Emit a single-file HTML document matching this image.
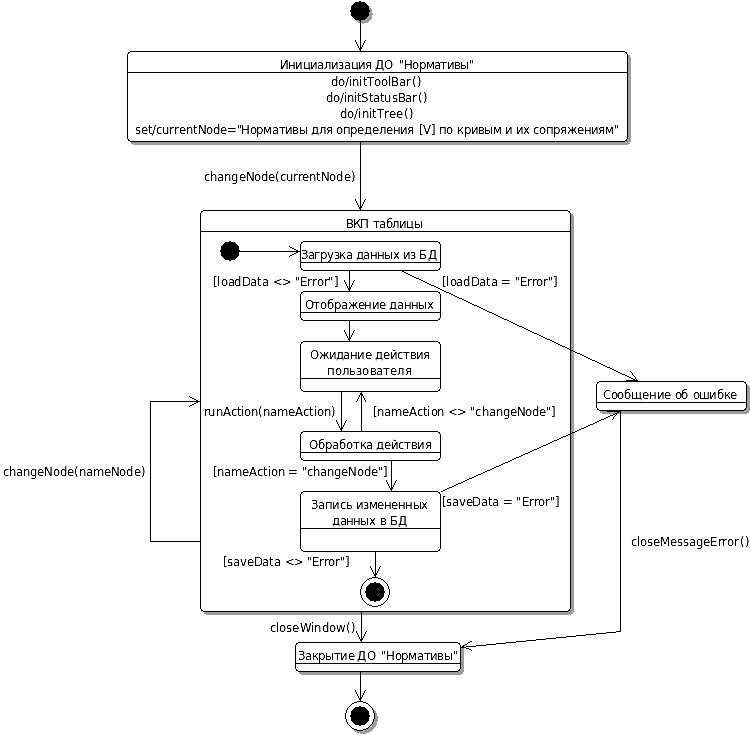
<!DOCTYPE html>
<html lang="ru"><head><meta charset="utf-8"><title>Диаграмма состояний</title>
<style>
html,body{margin:0;padding:0;background:#fff;}
body{width:750px;height:735px;overflow:hidden;}
svg{display:block;will-change:transform;}
text{font-family:"DejaVu Sans Condensed","DejaVu Sans","Liberation Sans",sans-serif;font-size:13px;fill:#000;}
</style></head><body>
<svg width="750" height="735" viewBox="0 0 750 735">
<rect x="0" y="0" width="750" height="735" fill="#fff"/>
<path shape-rendering="crispEdges" fill="#9d9d9d" d="M369 7h1v1h-1zM369 8h2v1h-2zM369 9h3v1h-3zM370 10h2v2h-2zM369 12h3v1h-3zM369 13h4v2h-4zM369 15h3v1h-3zM368 16h4v1h-4zM367 17h5v1h-5zM366 18h6v1h-6zM365 19h6v1h-6zM356 20h3v1h-3zM361 20h9v1h-9zM357 21h3v1h-3zM361 21h8v1h-8zM358 22h2v1h-2zM361 22h7v1h-7zM362 23h2v1h-2zM628 55h2v2h-2zM628 57h3v82h-3zM627 139h4v2h-4zM625 141h6v1h-6zM131 142h229v2h-229zM361 142h269v2h-269zM133 144h227v1h-227zM361 144h267v1h-267zM571 214h2v2h-2zM571 216h3v134h-3zM573 350h1v1h-1zM571 351h2v1h-2zM571 352h3v80h-3zM747 385h2v2h-2zM747 387h3v21h-3zM746 408h4v2h-4zM744 410h6v1h-6zM600 411h7v1h-7zM621 411h128v2h-128zM600 412h17v1h-17zM619 412h1v1h-1zM602 413h13v1h-13zM617 413h3v1h-3zM621 413h126v1h-126zM571 432h1v1h-1zM572 433h2v1h-2zM571 434h3v175h-3zM570 609h4v2h-4zM568 611h6v1h-6zM204 612h157v2h-157zM362 612h211v2h-211zM206 614h155v1h-155zM362 614h209v1h-209zM461 646h1v1h-1zM461 648h3v21h-3zM460 669h4v2h-4zM458 671h6v1h-6zM299 672h61v2h-61zM361 672h102v2h-102zM301 674h59v1h-59zM361 674h100v1h-100zM373 709h1v1h-1zM374 710h1v1h-1zM374 711h2v2h-2zM375 713h2v3h-2zM375 716h3v3h-3zM374 719h4v3h-4zM373 722h4v2h-4zM372 724h5v1h-5zM371 725h5v1h-5zM370 726h6v1h-6zM369 727h6v1h-6zM368 728h6v1h-6zM353 729h1v1h-1zM366 729h7v1h-7zM354 730h3v1h-3zM363 730h9v1h-9zM355 731h16v1h-16zM357 732h12v1h-12zM360 733h6v1h-6z"/>
<path shape-rendering="crispEdges" fill="#000" d="M359 1h2v1h-2zM355 2h10v1h-10zM354 3h12v1h-12zM353 4h14v1h-14zM352 5h16v1h-16zM351 6h18v4h-18zM350 10h20v2h-20zM351 12h18v4h-18zM352 16h16v1h-16zM353 17h14v1h-14zM354 18h12v1h-12zM355 19h10v1h-10zM359 20h2v1h-2zM360 21h1v26h-1zM355 40h1v2h-1zM365 40h1v1h-1zM364 41h1v2h-1zM356 42h1v2h-1zM363 43h1v2h-1zM357 44h1v2h-1zM362 45h1v2h-1zM358 46h1v2h-1zM360 47h2v1h-2zM359 48h3v1h-3zM359 49h2v1h-2zM360 50h1v1h-1zM130 51h495v1h-495zM128 52h2v1h-2zM625 52h2v1h-2zM128 53h1v1h-1zM626 53h1v1h-1zM127 54h1v18h-1zM627 54h1v18h-1zM127 72h501v1h-501zM127 73h1v66h-1zM627 73h1v66h-1zM128 139h1v1h-1zM626 139h1v1h-1zM128 140h2v1h-2zM625 140h2v1h-2zM130 141h495v1h-495zM360 142h1v64h-1zM355 199h1v2h-1zM365 199h1v1h-1zM364 200h1v2h-1zM356 201h1v2h-1zM363 202h1v2h-1zM357 203h1v2h-1zM362 204h1v2h-1zM358 205h1v2h-1zM360 206h2v1h-2zM359 207h3v1h-3zM359 208h2v1h-2zM360 209h1v1h-1zM203 210h365v1h-365zM201 211h2v1h-2zM568 211h2v1h-2zM201 212h1v1h-1zM569 212h1v1h-1zM200 213h1v18h-1zM570 213h1v18h-1zM200 231h371v1h-371zM200 232h1v169h-1zM570 232h1v117h-1zM229 241h2v1h-2zM303 241h135v1h-135zM225 242h10v1h-10zM301 242h2v1h-2zM438 242h2v1h-2zM224 243h12v1h-12zM301 243h1v1h-1zM439 243h1v1h-1zM223 244h14v1h-14zM300 244h1v7h-1zM440 244h1v18h-1zM222 245h16v1h-16zM221 246h18v4h-18zM289 246h1v1h-1zM290 247h2v1h-2zM292 248h2v1h-2zM294 249h2v1h-2zM220 250h20v1h-20zM296 250h2v1h-2zM220 251h81v1h-81zM221 252h18v4h-18zM296 252h2v1h-2zM300 252h1v10h-1zM294 253h2v1h-2zM292 254h2v1h-2zM290 255h2v1h-2zM222 256h16v1h-16zM289 256h1v1h-1zM223 257h14v1h-14zM224 258h12v1h-12zM225 259h10v1h-10zM229 260h2v1h-2zM300 262h141v1h-141zM300 263h1v5h-1zM440 263h1v5h-1zM301 268h1v1h-1zM439 268h1v1h-1zM301 269h2v1h-2zM438 269h2v1h-2zM303 270h135v1h-135zM349 271h1v16h-1zM402 271h2v1h-2zM404 272h2v1h-2zM406 273h2v1h-2zM408 274h2v1h-2zM410 275h2v1h-2zM412 276h2v1h-2zM414 277h2v1h-2zM416 278h3v1h-3zM419 279h2v1h-2zM344 280h1v2h-1zM354 280h1v1h-1zM421 280h2v1h-2zM353 281h1v2h-1zM423 281h2v1h-2zM345 282h1v2h-1zM425 282h2v1h-2zM352 283h1v2h-1zM427 283h2v1h-2zM346 284h1v2h-1zM429 284h2v1h-2zM351 285h1v2h-1zM431 285h3v1h-3zM347 286h1v2h-1zM434 286h2v1h-2zM349 287h2v1h-2zM436 287h2v1h-2zM348 288h3v1h-3zM438 288h2v1h-2zM348 289h2v1h-2zM440 289h2v1h-2zM349 290h1v1h-1zM442 290h2v1h-2zM303 291h135v1h-135zM444 291h2v1h-2zM301 292h2v1h-2zM438 292h2v1h-2zM446 292h3v1h-3zM301 293h1v1h-1zM439 293h1v1h-1zM449 293h2v1h-2zM300 294h1v18h-1zM440 294h1v18h-1zM451 294h2v1h-2zM453 295h2v1h-2zM455 296h2v1h-2zM457 297h2v1h-2zM459 298h3v1h-3zM462 299h2v1h-2zM464 300h2v1h-2zM466 301h2v1h-2zM468 302h2v1h-2zM470 303h2v1h-2zM472 304h2v1h-2zM474 305h3v1h-3zM477 306h2v1h-2zM479 307h2v1h-2zM481 308h2v1h-2zM483 309h2v1h-2zM485 310h2v1h-2zM487 311h2v1h-2zM300 312h141v1h-141zM489 312h3v1h-3zM300 313h1v5h-1zM440 313h1v5h-1zM492 313h2v1h-2zM494 314h2v1h-2zM496 315h2v1h-2zM498 316h2v1h-2zM500 317h2v1h-2zM301 318h1v1h-1zM439 318h1v1h-1zM502 318h2v1h-2zM301 319h2v1h-2zM438 319h2v1h-2zM504 319h3v1h-3zM303 320h135v1h-135zM507 320h2v1h-2zM349 321h1v16h-1zM509 321h2v1h-2zM511 322h2v1h-2zM513 323h2v1h-2zM515 324h2v1h-2zM517 325h2v1h-2zM519 326h3v1h-3zM522 327h2v1h-2zM524 328h2v1h-2zM526 329h2v1h-2zM344 330h1v2h-1zM354 330h1v1h-1zM528 330h2v1h-2zM353 331h1v2h-1zM530 331h2v1h-2zM345 332h1v2h-1zM532 332h2v1h-2zM352 333h1v2h-1zM534 333h3v1h-3zM346 334h1v2h-1zM537 334h2v1h-2zM351 335h1v2h-1zM539 335h2v1h-2zM347 336h1v2h-1zM541 336h2v1h-2zM349 337h2v1h-2zM543 337h2v1h-2zM348 338h3v1h-3zM545 338h2v1h-2zM348 339h2v1h-2zM547 339h3v1h-3zM349 340h1v1h-1zM550 340h2v1h-2zM303 341h135v1h-135zM552 341h2v1h-2zM301 342h2v1h-2zM438 342h2v1h-2zM554 342h2v1h-2zM301 343h1v1h-1zM439 343h1v1h-1zM556 343h2v1h-2zM300 344h1v34h-1zM440 344h1v34h-1zM558 344h2v1h-2zM560 345h2v1h-2zM562 346h3v1h-3zM565 347h2v1h-2zM567 348h2v1h-2zM569 349h2v1h-2zM570 350h3v1h-3zM570 351h1v82h-1zM573 351h2v1h-2zM575 352h2v1h-2zM577 353h3v1h-3zM580 354h2v1h-2zM582 355h2v1h-2zM584 356h2v1h-2zM586 357h2v1h-2zM588 358h2v1h-2zM590 359h2v1h-2zM592 360h3v1h-3zM595 361h2v1h-2zM597 362h2v1h-2zM599 363h2v1h-2zM601 364h2v1h-2zM603 365h2v1h-2zM605 366h2v1h-2zM607 367h3v1h-3zM610 368h2v1h-2zM612 369h2v1h-2zM614 370h2v1h-2zM616 371h2v1h-2zM630 371h1v1h-1zM618 372h2v1h-2zM631 372h1v1h-1zM620 373h2v1h-2zM632 373h1v2h-1zM622 374h3v1h-3zM625 375h2v1h-2zM633 375h1v1h-1zM627 376h2v1h-2zM634 376h1v1h-1zM629 377h2v1h-2zM635 377h1v2h-1zM300 378h141v1h-141zM631 378h2v1h-2zM300 379h1v10h-1zM440 379h1v10h-1zM633 379h2v1h-2zM636 379h1v1h-1zM626 380h12v1h-12zM599 381h145v1h-145zM597 382h2v1h-2zM744 382h2v1h-2zM597 383h1v1h-1zM745 383h1v1h-1zM596 384h1v18h-1zM746 384h1v18h-1zM301 389h1v1h-1zM439 389h1v1h-1zM301 390h2v1h-2zM438 390h2v1h-2zM303 391h135v1h-135zM341 392h1v35h-1zM361 392h1v1h-1zM360 393h2v1h-2zM360 394h3v1h-3zM359 395h1v2h-1zM361 395h2v1h-2zM189 396h1v1h-1zM361 396h1v35h-1zM363 396h1v2h-1zM190 397h2v1h-2zM358 397h1v2h-1zM192 398h2v1h-2zM364 398h1v2h-1zM194 399h2v1h-2zM357 399h1v2h-1zM196 400h2v1h-2zM365 400h1v2h-1zM150 401h51v1h-51zM356 401h1v1h-1zM150 402h1v139h-1zM196 402h2v1h-2zM200 402h1v139h-1zM596 402h151v1h-151zM194 403h2v1h-2zM596 403h1v5h-1zM746 403h1v5h-1zM192 404h2v1h-2zM190 405h2v1h-2zM189 406h1v1h-1zM597 408h1v1h-1zM745 408h1v1h-1zM597 409h2v1h-2zM744 409h2v1h-2zM599 410h145v1h-145zM607 411h14v1h-14zM617 412h2v1h-2zM620 412h1v219h-1zM615 413h2v1h-2zM613 414h2v1h-2zM616 414h1v1h-1zM610 415h3v1h-3zM615 415h1v1h-1zM608 416h2v1h-2zM614 416h1v1h-1zM606 417h2v1h-2zM613 417h1v2h-1zM604 418h2v1h-2zM601 419h3v1h-3zM612 419h1v1h-1zM336 420h1v2h-1zM346 420h1v1h-1zM599 420h2v1h-2zM345 421h1v2h-1zM597 421h2v1h-2zM337 422h1v2h-1zM595 422h2v1h-2zM344 423h1v2h-1zM593 423h2v1h-2zM338 424h1v2h-1zM590 424h3v1h-3zM343 425h1v2h-1zM588 425h2v1h-2zM339 426h1v2h-1zM586 426h2v1h-2zM341 427h2v1h-2zM584 427h2v1h-2zM340 428h3v1h-3zM581 428h3v1h-3zM340 429h2v1h-2zM579 429h2v1h-2zM341 430h1v1h-1zM577 430h2v1h-2zM303 431h135v1h-135zM575 431h2v1h-2zM301 432h2v1h-2zM438 432h2v1h-2zM572 432h3v1h-3zM301 433h1v1h-1zM439 433h1v1h-1zM570 433h2v1h-2zM300 434h1v18h-1zM440 434h1v18h-1zM568 434h3v1h-3zM566 435h2v1h-2zM570 435h1v174h-1zM563 436h3v1h-3zM561 437h2v1h-2zM559 438h2v1h-2zM557 439h2v1h-2zM554 440h3v1h-3zM552 441h2v1h-2zM550 442h2v1h-2zM548 443h2v1h-2zM546 444h2v1h-2zM543 445h3v1h-3zM541 446h2v1h-2zM539 447h2v1h-2zM537 448h2v1h-2zM534 449h3v1h-3zM532 450h2v1h-2zM530 451h2v1h-2zM300 452h141v1h-141zM528 452h2v1h-2zM300 453h1v5h-1zM440 453h1v5h-1zM525 453h3v1h-3zM523 454h2v1h-2zM521 455h2v1h-2zM519 456h2v1h-2zM516 457h3v1h-3zM301 458h1v1h-1zM439 458h1v1h-1zM514 458h2v1h-2zM301 459h2v1h-2zM438 459h2v1h-2zM512 459h2v1h-2zM303 460h135v1h-135zM510 460h2v1h-2zM391 461h1v26h-1zM508 461h2v1h-2zM505 462h3v1h-3zM503 463h2v1h-2zM501 464h2v1h-2zM499 465h2v1h-2zM496 466h3v1h-3zM494 467h2v1h-2zM492 468h2v1h-2zM490 469h2v1h-2zM487 470h3v1h-3zM485 471h2v1h-2zM483 472h2v1h-2zM481 473h2v1h-2zM478 474h3v1h-3zM476 475h2v1h-2zM474 476h2v1h-2zM472 477h2v1h-2zM469 478h3v1h-3zM467 479h2v1h-2zM386 480h1v2h-1zM396 480h1v1h-1zM465 480h2v1h-2zM395 481h1v2h-1zM463 481h2v1h-2zM387 482h1v2h-1zM461 482h2v1h-2zM394 483h1v2h-1zM458 483h3v1h-3zM388 484h1v2h-1zM456 484h2v1h-2zM393 485h1v2h-1zM454 485h2v1h-2zM389 486h1v2h-1zM452 486h2v1h-2zM391 487h2v1h-2zM449 487h3v1h-3zM390 488h3v1h-3zM447 488h2v1h-2zM390 489h2v1h-2zM445 489h2v1h-2zM391 490h1v1h-1zM443 490h2v1h-2zM303 491h135v1h-135zM441 491h2v1h-2zM301 492h2v1h-2zM438 492h2v1h-2zM301 493h1v1h-1zM439 493h1v1h-1zM300 494h1v34h-1zM440 494h1v34h-1zM300 528h141v1h-141zM300 529h1v20h-1zM440 529h1v20h-1zM150 541h51v1h-51zM200 542h1v67h-1zM301 549h1v1h-1zM439 549h1v1h-1zM301 550h2v1h-2zM438 550h2v1h-2zM303 551h135v1h-135zM375 552h1v21h-1zM370 566h1v2h-1zM380 566h1v1h-1zM379 567h1v2h-1zM371 568h1v2h-1zM378 569h1v2h-1zM372 570h1v2h-1zM377 571h1v2h-1zM373 572h1v2h-1zM375 573h2v1h-2zM374 574h3v1h-3zM374 575h2v1h-2zM375 576h1v1h-1zM372 577h6v1h-6zM369 578h3v1h-3zM378 578h3v1h-3zM367 579h2v1h-2zM381 579h2v1h-2zM366 580h1v1h-1zM383 580h1v1h-1zM365 581h1v1h-1zM384 581h1v1h-1zM364 582h1v1h-1zM374 582h2v1h-2zM385 582h1v1h-1zM363 583h1v1h-1zM370 583h10v1h-10zM386 583h1v1h-1zM362 584h1v2h-1zM369 584h12v1h-12zM387 584h1v2h-1zM368 585h14v1h-14zM361 586h1v3h-1zM367 586h16v1h-16zM388 586h1v3h-1zM366 587h18v4h-18zM360 589h1v6h-1zM389 589h1v6h-1zM365 591h20v2h-20zM366 593h18v4h-18zM361 595h1v3h-1zM388 595h1v3h-1zM367 597h16v1h-16zM362 598h1v2h-1zM368 598h14v1h-14zM387 598h1v2h-1zM369 599h12v1h-12zM363 600h1v1h-1zM370 600h10v1h-10zM386 600h1v1h-1zM364 601h1v1h-1zM374 601h2v1h-2zM385 601h1v1h-1zM365 602h1v1h-1zM384 602h1v1h-1zM366 603h1v1h-1zM383 603h1v1h-1zM367 604h2v1h-2zM381 604h2v1h-2zM369 605h3v1h-3zM378 605h3v1h-3zM372 606h6v1h-6zM201 609h1v1h-1zM569 609h1v1h-1zM201 610h2v1h-2zM568 610h2v1h-2zM203 611h365v1h-365zM361 612h1v26h-1zM356 631h1v2h-1zM366 631h1v1h-1zM616 631h5v1h-5zM365 632h1v2h-1zM606 632h10v1h-10zM357 633h1v2h-1zM596 633h10v1h-10zM364 634h1v2h-1zM586 634h10v1h-10zM358 635h1v2h-1zM576 635h10v1h-10zM363 636h1v2h-1zM566 636h10v1h-10zM359 637h1v2h-1zM556 637h10v1h-10zM361 638h2v1h-2zM546 638h10v1h-10zM360 639h3v1h-3zM536 639h10v1h-10zM360 640h2v1h-2zM526 640h10v1h-10zM361 641h1v1h-1zM470 641h2v1h-2zM516 641h10v1h-10zM298 642h160v1h-160zM468 642h2v1h-2zM506 642h10v1h-10zM296 643h2v1h-2zM458 643h2v1h-2zM467 643h1v1h-1zM496 643h10v1h-10zM296 644h1v1h-1zM459 644h1v1h-1zM465 644h2v1h-2zM486 644h10v1h-10zM295 645h1v18h-1zM460 645h1v2h-1zM463 645h2v1h-2zM476 645h10v1h-10zM462 646h2v1h-2zM466 646h10v1h-10zM460 647h6v1h-6zM460 648h1v15h-1zM466 648h3v1h-3zM469 649h2v1h-2zM471 650h1v1h-1zM295 663h166v1h-166zM295 664h1v5h-1zM460 664h1v5h-1zM296 669h1v1h-1zM459 669h1v1h-1zM296 670h2v1h-2zM458 670h2v1h-2zM298 671h160v1h-160zM360 672h1v25h-1zM355 690h1v2h-1zM365 690h1v1h-1zM364 691h1v2h-1zM356 692h1v2h-1zM363 693h1v2h-1zM357 694h1v2h-1zM362 695h1v2h-1zM358 696h1v2h-1zM360 697h2v1h-2zM359 698h3v1h-3zM359 699h2v1h-2zM360 700h1v1h-1zM357 701h6v1h-6zM354 702h3v1h-3zM363 702h3v1h-3zM352 703h2v1h-2zM366 703h2v1h-2zM351 704h1v1h-1zM368 704h1v1h-1zM350 705h1v1h-1zM369 705h1v1h-1zM349 706h1v1h-1zM359 706h2v1h-2zM370 706h1v1h-1zM348 707h1v1h-1zM355 707h10v1h-10zM371 707h1v1h-1zM347 708h1v2h-1zM354 708h12v1h-12zM372 708h1v2h-1zM353 709h14v1h-14zM346 710h1v3h-1zM352 710h16v1h-16zM373 710h1v3h-1zM351 711h18v4h-18zM345 713h1v6h-1zM374 713h1v6h-1zM350 715h20v2h-20zM351 717h18v4h-18zM346 719h1v3h-1zM373 719h1v3h-1zM352 721h16v1h-16zM347 722h1v2h-1zM353 722h14v1h-14zM372 722h1v2h-1zM354 723h12v1h-12zM348 724h1v1h-1zM355 724h10v1h-10zM371 724h1v1h-1zM349 725h1v1h-1zM359 725h2v1h-2zM370 725h1v1h-1zM350 726h1v1h-1zM369 726h1v1h-1zM351 727h1v1h-1zM368 727h1v1h-1zM352 728h2v1h-2zM366 728h2v1h-2zM354 729h3v1h-3zM363 729h3v1h-3zM357 730h6v1h-6z"/>
<defs><filter id="bw" x="0" y="0" width="750" height="735" filterUnits="userSpaceOnUse" color-interpolation-filters="sRGB"><feComponentTransfer><feFuncA type="linear" slope="2" intercept="-0.5"/></feComponentTransfer></filter></defs>
<g filter="url(#bw)">
<text x="280 288 295 303 310 317 324 331 338 344 351 358 365 372 375 384 394 399 404 412 419 426 434 440 447 454 460 469" y="69">Инициализация ДО &quot;Нормативы&quot;</text>
<text x="331 338 345 349 352 359 363 367 374 381 388 391 399 406 412 417" y="86">do/initToolBar()</text>
<text x="326 333 340 344 347 354 357 361 369 373 380 384 392 398 405 412 418 423" y="102">do/initStatusBar()</text>
<text x="340 347 354 358 362 369 372 377 384 389 396 404 409" y="118">do/initTree()</text>
<text x="135 141 148 152 156 162 169 174 179 186 193 198 206 213 220 227 237 241 250 256 263 272 279 285 292 299 308 311 319 326 333 336 343 350 357 364 372 379 386 393 400 407 414 419 423 431 436 439 446 454 457 464 471 478 484 493 502 505 513 516 523 530 533 539 546 553 560 567 577 584 591 598 605 614" y="134">set/currentNode=&quot;Нормативы для определения [V] по кривым и их сопряжениям&quot;</text>
<text x="204 210 217 224 231 239 246 254 261 268 275 280 286 293 298 302 309 316 321 329 336 344 351" y="181">changeNode(currentNode)</text>
<text x="346 353 360 369 373 379 386 392 399 406 414" y="228">ВКП таблицы</text>
<text x="301 308 314 320 327 334 339 346 353 356 363 370 377 384 393 400 403 410 416 419 428" y="259">Загрузка данных из БД</text>
<text x="213 217 221 228 234 242 250 257 262 269 273 282 291 295 300 307 312 317 324 328 334" y="286">[loadData &lt;&gt; &quot;Error&quot;]</text>
<text x="442 446 450 456 463 471 479 486 491 498 501 511 515 520 527 532 536 543 548 553" y="286">[loadData = &quot;Error&quot;]</text>
<text x="305 313 320 327 334 341 348 358 364 372 379 387 389 397 404 411 418 427" y="309">Отображение данных</text>
<text x="310 319 329 336 343 350 357 365 373 375 383 390 397 403 410 416 423" y="359">Ожидание действия</text>
<text x="327 335 342 349 356 362 370 376 383 390 397 405" y="375">пользователя</text>
<text x="603 611 617 624 631 642 649 657 664 672 675 681 689 693 699 709 717 724 730" y="399">Сообщение об ошибке</text>
<text x="204 208 216 223 231 237 241 244 251 258 263 270 277 288 295 303 309 314 317 324 331" y="416">runAction(nameAction)</text>
<text x="373 377 384 391 402 409 417 423 427 431 437 444 448 457 466 470 475 482 489 496 503 510 517 525 532 539 546 551" y="416">[nameAction &lt;&gt; &quot;changeNode&quot;]</text>
<text x="309 318 325 332 339 346 353 360 366 373 376 384 391 398 404 411 417 425" y="449">Обработка действия</text>
<text x="3 9 16 23 30 37 44 53 60 67 74 79 86 93 104 111 119 126 134 141" y="476">changeNode(nameNode)</text>
<text x="213 217 224 231 242 249 257 263 268 271 278 285 288 298 302 307 313 320 327 334 341 348 357 364 371 378 383" y="476">[nameAction = &quot;changeNode&quot;]</text>
<text x="311 318 325 332 340 346 353 356 363 369 377 384 391 398 405 413 421" y="509">Запись измененных</text>
<text x="442 446 452 459 466 472 481 488 492 499 503 512 516 522 529 534 538 545 550 555" y="506">[saveData = &quot;Error&quot;]</text>
<text x="332 340 346 353 360 369 376 380 387 390 398" y="525">данных в БД</text>
<text x="631 637 640 647 653 660 670 677 683 689 696 703 710 718 722 727 734 740 745" y="546">closeMessageError()</text>
<text x="223 227 233 240 247 254 262 269 274 281 285 294 303 307 312 319 324 328 335 340 345" y="566">[saveData &lt;&gt; &quot;Error&quot;]</text>
<text x="270 276 279 286 292 300 311 314 322 329 336 346 351" y="632">closeWindow()</text>
<text x="298 305 312 318 325 334 340 348 355 357 367 377 381 386 395 401 408 417 424 430 437 444 453" y="660">Закрытие ДО &quot;Нормативы&quot;</text>
</g>
</svg>
</body></html>
